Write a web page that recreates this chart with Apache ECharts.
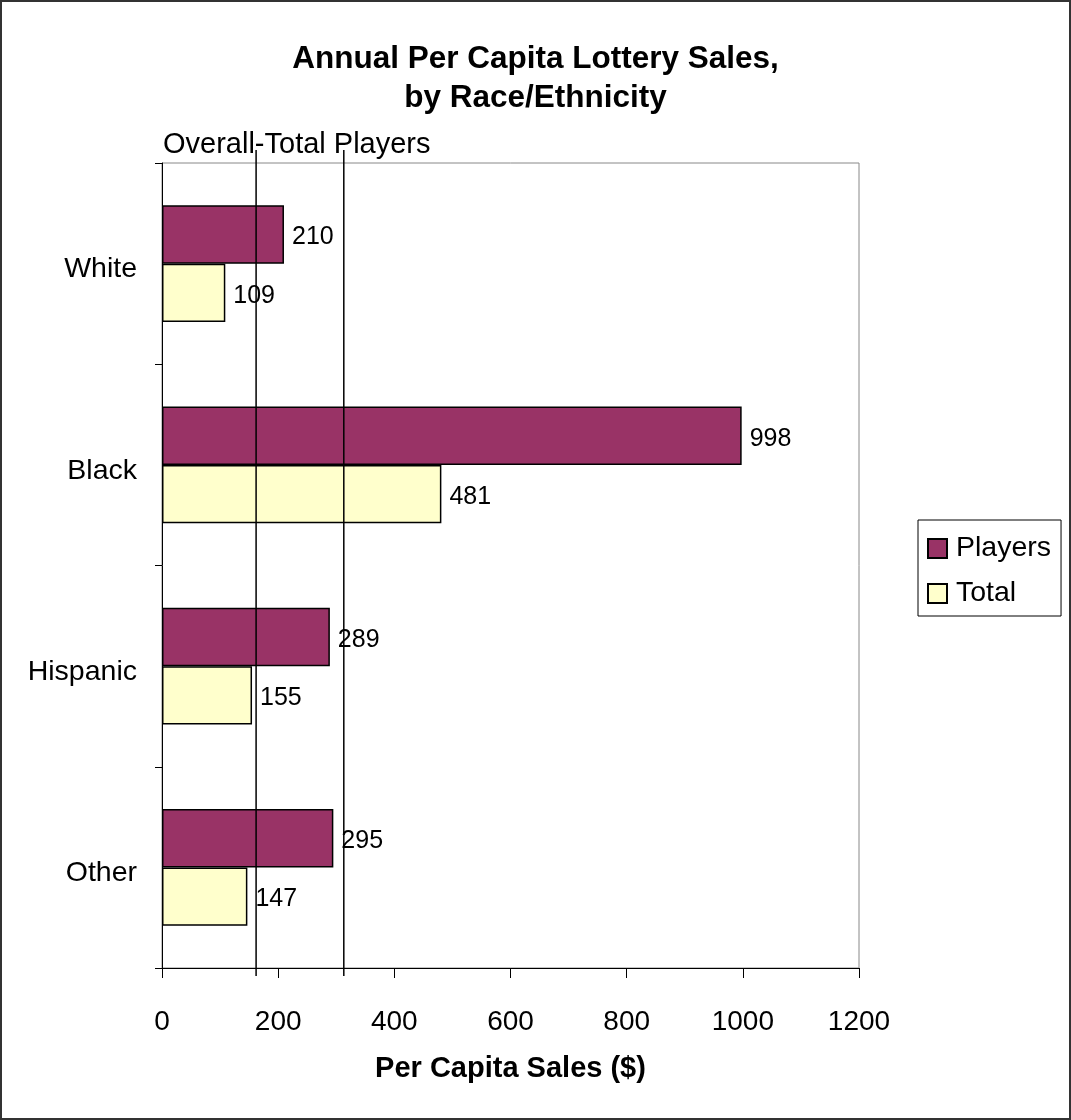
<!DOCTYPE html>
<html>
<head>
<meta charset="utf-8">
<script src="https://cdn.jsdelivr.net/npm/echarts@6/dist/echarts.min.js"></script>
<style>
html,body{margin:0;padding:0;background:#fff;}
#chart{width:1071px;height:1120px;}
</style>
</head>
<body>
<div id="chart"></div>
<script>
const categories = ['White', 'Black', 'Hispanic', 'Other'];
const playersValues = [210, 998, 289, 295];
const totalValues = [109, 481, 155, 147];
const seriesNames = ['Players', 'Total'];
const refLineValues = [162, 313];
const refLineText = 'Overall-Total Players';
const xTicks = { min: 0, max: 1200, interval: 200 };
const titleText = 'Annual Per Capita Lottery Sales,\nby Race/Ethnicity';
const xAxisName = 'Per Capita Sales ($)';

const FONT = '"Liberation Sans", Arial, sans-serif';
const chart = echarts.init(document.getElementById('chart'), null, { renderer: 'canvas' });

const barLabel = {
  show: true, position: 'right', distance: 8,
  color: '#000', fontSize: 25, fontFamily: FONT,
  offset: [0, 3]
};

const option = {
  animation: false,
  backgroundColor: '#fff',
  title: {
    text: titleText,
    left: 'center',
    top: 35,
    textStyle: { fontFamily: FONT, fontSize: 31.5, fontWeight: 'bold', color: '#000', lineHeight: 39 }
  },
  legend: {
    data: seriesNames,
    orient: 'vertical',
    left: 918,
    top: 520,
    padding: [14, 10, 8, 9],
    itemGap: 16,
    itemWidth: 19,
    itemHeight: 19,
    icon: 'rect',
    borderColor: '#000',
    borderWidth: 1,
    backgroundColor: '#fff',
    textStyle: { fontFamily: FONT, fontSize: 28.5, color: '#000', padding: [0, 0, 0, 4] }
  },
  grid: {
    left: 162, right: 212, top: 163, bottom: 152,
    show: true, borderColor: '#888', borderWidth: 1, backgroundColor: 'transparent'
  },
  xAxis: {
    type: 'value',
    min: xTicks.min, max: xTicks.max, interval: xTicks.interval,
    name: xAxisName,
    nameLocation: 'middle',
    nameGap: 86,
    nameTextStyle: { fontFamily: FONT, fontSize: 29, fontWeight: 'bold', color: '#000' },
    axisLine: { show: true, lineStyle: { color: '#000', width: 1 } },
    axisTick: { show: true, length: 10, lineStyle: { color: '#000', width: 1 } },
    axisLabel: {
      fontFamily: FONT, fontSize: 28, color: '#000', margin: 40,
      formatter: function (v) { return String(v); }
    },
    splitLine: { show: false }
  },
  yAxis: {
    type: 'category',
    data: categories,
    inverse: true,
    axisLine: { show: true, lineStyle: { color: '#000', width: 1 } },
    axisTick: { show: true, length: 7, lineStyle: { color: '#000', width: 1 } },
    axisLabel: {
      fontFamily: FONT, fontSize: 28.5, color: '#000', margin: 25,
      verticalAlign: 'top', lineHeight: 12
    },
    splitLine: { show: false }
  },
  graphic: [
    {
      type: 'rect', z: 100, silent: true,
      shape: { x: 1, y: 1, width: 1069, height: 1118 },
      style: { fill: 'none', stroke: '#333', lineWidth: 2 }
    },
    {
      type: 'text', left: 163, top: 130, z: 100,
      style: { text: refLineText, fontFamily: FONT, fontSize: 29, fill: '#000' }
    }
  ],
  series: [
    {
      name: seriesNames[0], type: 'bar', data: playersValues,
      barGap: '0%', barCategoryGap: '42%',
      itemStyle: { color: '#993366', borderColor: '#000', borderWidth: 1.5 },
      label: barLabel
    },
    {
      name: seriesNames[1], type: 'bar', data: totalValues,
      barGap: '0%', barCategoryGap: '42%',
      itemStyle: { color: '#FFFFCC', borderColor: '#000', borderWidth: 1.5 },
      label: barLabel
    },
    {
      type: 'custom', name: 'ref', z: 10, silent: true,
      data: refLineValues.map(v => [v]),
      encode: { x: 0 },
      renderItem: function (params, api) {
        const cs = params.coordSys;
        const p = api.coord([api.value(0), 0]);
        return {
          type: 'line',
          shape: { x1: p[0], y1: cs.y - 13, x2: p[0], y2: cs.y + cs.height + 8 },
          style: { stroke: '#000', lineWidth: 1.5 }
        };
      }
    }
  ]
};
chart.setOption(option);
</script>
</body>
</html>
